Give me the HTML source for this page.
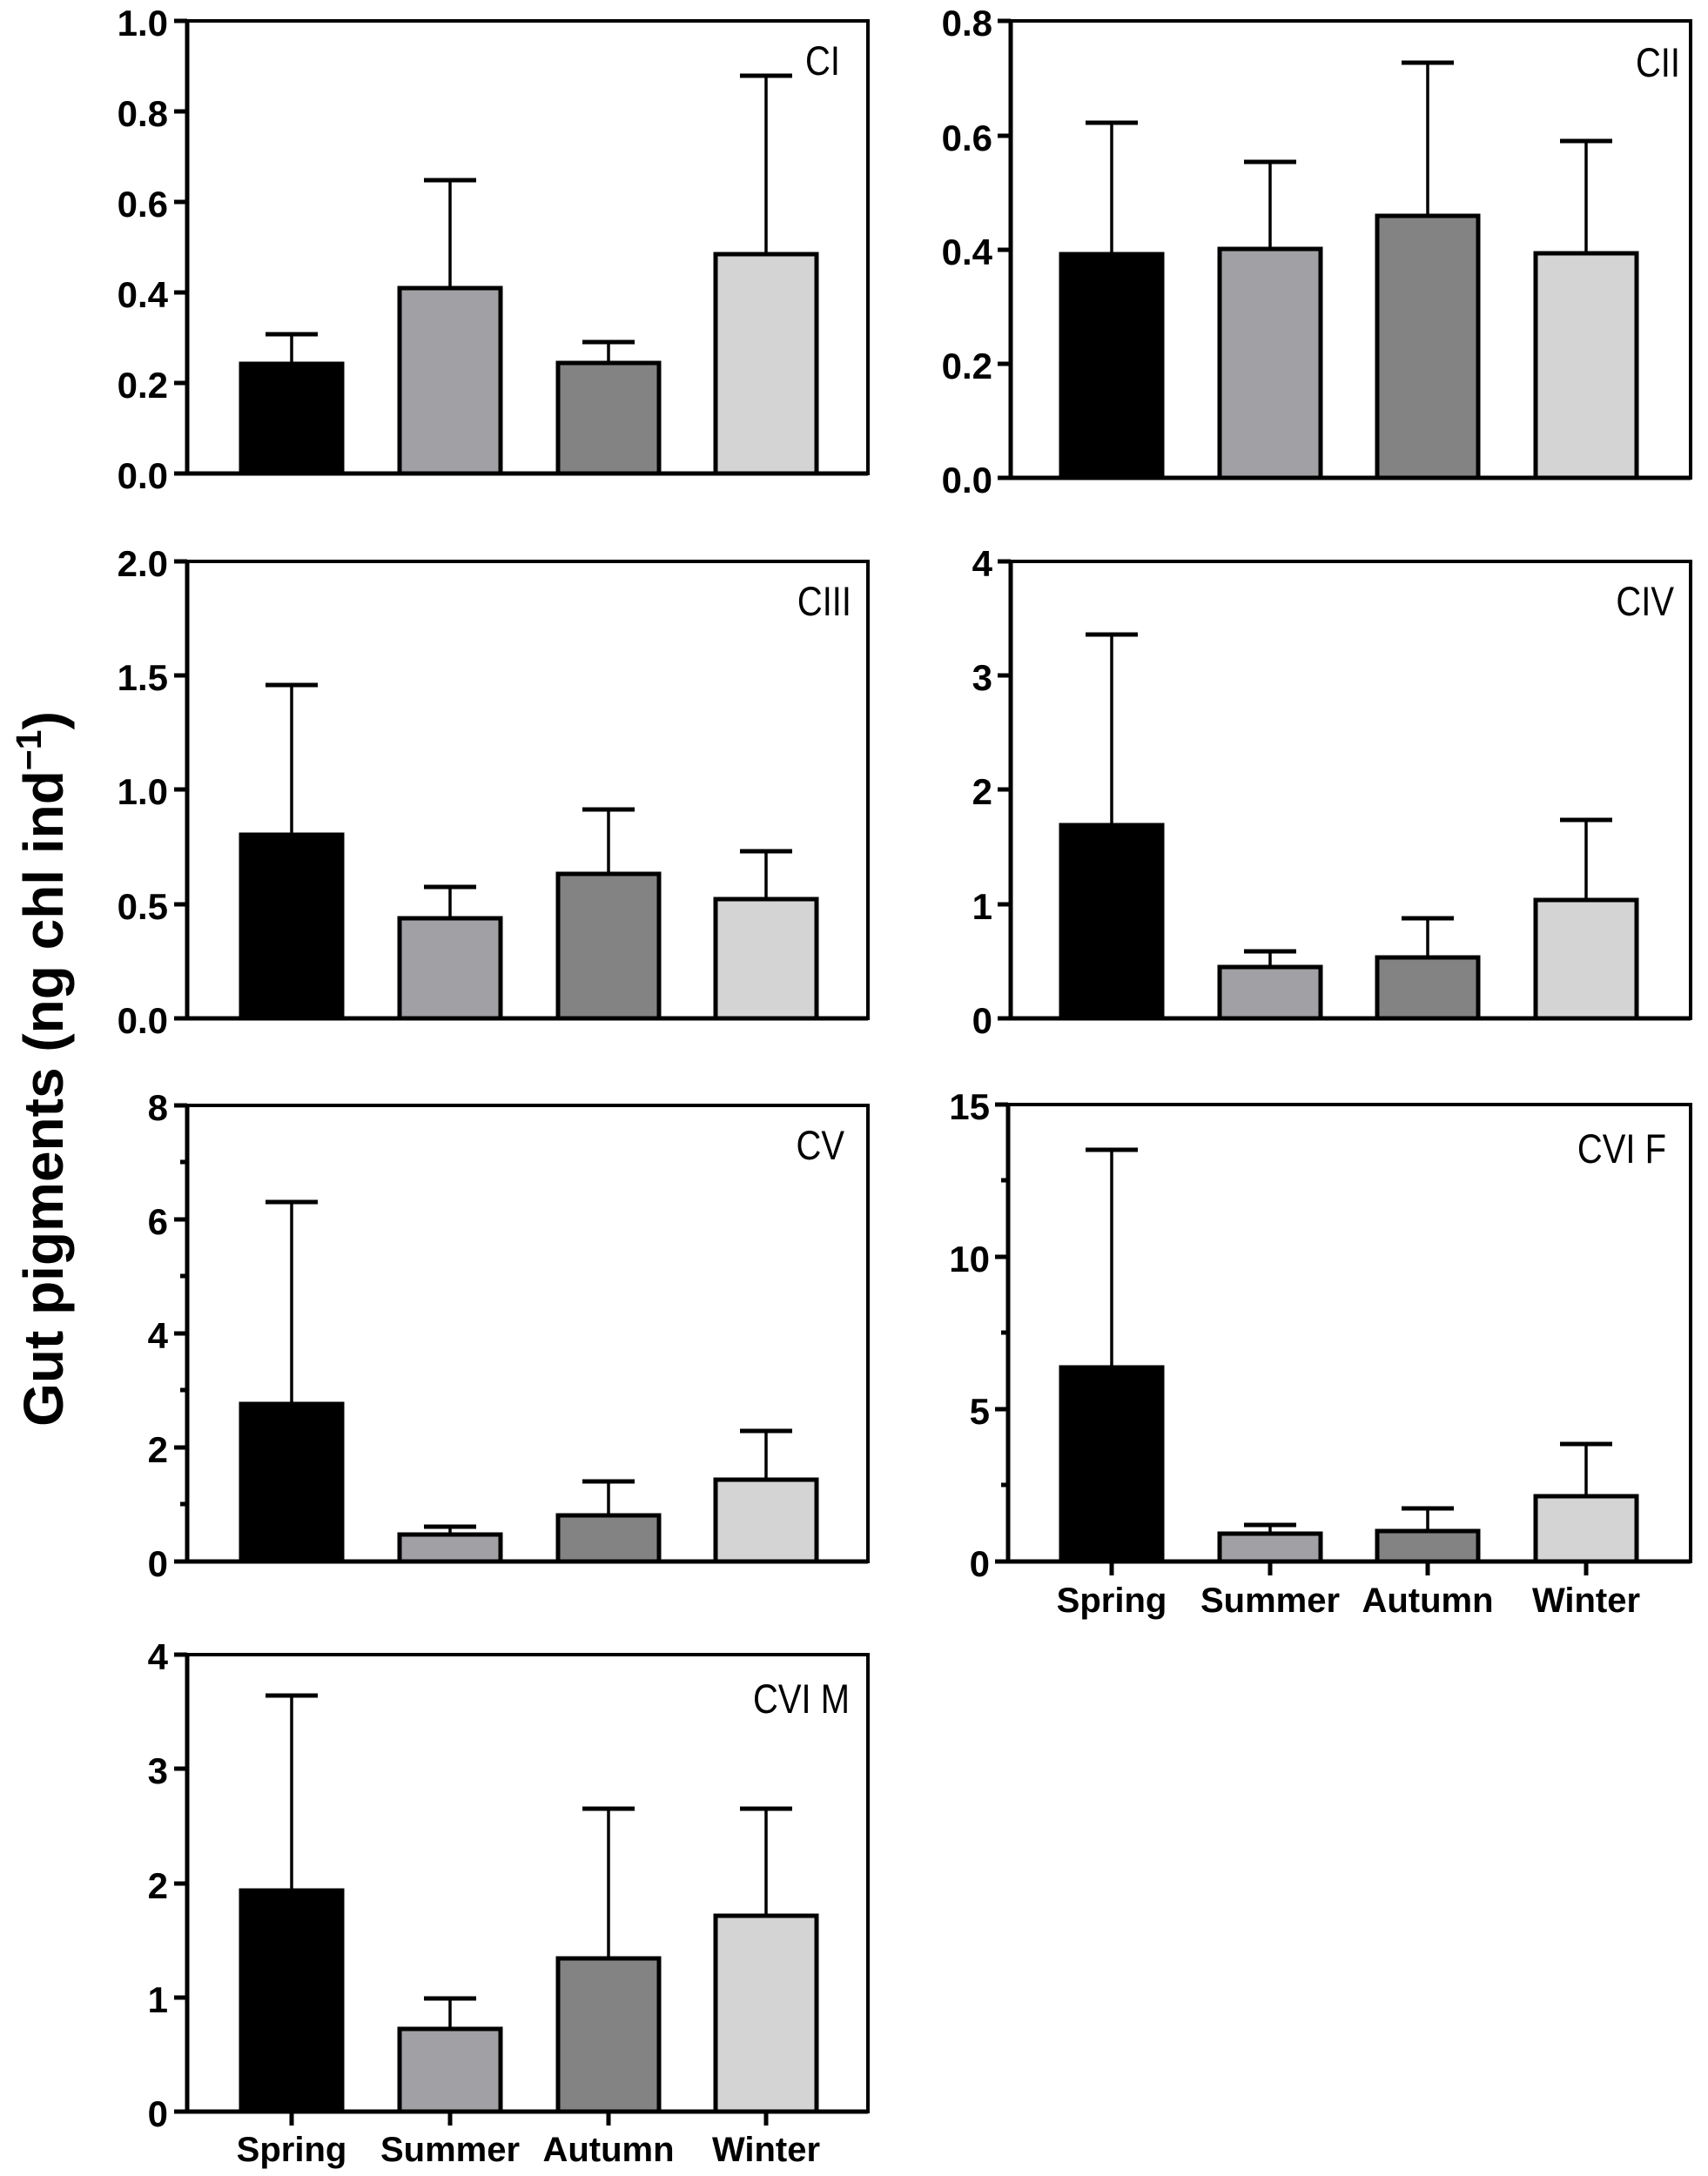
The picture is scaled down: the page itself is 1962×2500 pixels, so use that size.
<!DOCTYPE html>
<html><head><meta charset="utf-8"><style>
html,body{margin:0;padding:0;background:#fff}
svg{display:block}
text{font-family:"Liberation Sans",Arial,sans-serif}
.t{font-weight:bold;font-size:42px;text-anchor:end}
.x{font-weight:bold;font-size:40px;text-anchor:middle}
.p{font-size:47px;text-anchor:end}
.ax{stroke:#000;stroke-width:5;fill:none}
.bx{stroke:#000;stroke-width:4;fill:none}
.b{stroke:#000;stroke-width:5}
.e{stroke:#000;stroke-width:3.5}
.c{stroke:#000;stroke-width:5}
</style></head><body>
<svg width="1962" height="2500" viewBox="0 0 1962 2500" xmlns="http://www.w3.org/2000/svg">
<text transform="translate(72,1228) rotate(-90)" text-anchor="middle" font-weight="bold" font-size="64">Gut pigments (ng chl ind<tspan dy="-25" font-size="41">−1</tspan><tspan dy="25">)</tspan></text>

<!-- CI -->
<g>
<rect class="bx" x="215" y="24" width="782" height="520"/>
<line class="ax" x1="215" y1="22" x2="215" y2="546"/><line class="ax" x1="213" y1="544" x2="997" y2="544"/>
<g class="ax"><line x1="200" y1="24" x2="215" y2="24"/><line x1="200" y1="128" x2="215" y2="128"/><line x1="200" y1="232" x2="215" y2="232"/><line x1="200" y1="336" x2="215" y2="336"/><line x1="200" y1="440" x2="215" y2="440"/><line x1="200" y1="544" x2="215" y2="544"/></g>
<text class="t" x="193" y="41">1.0</text><text class="t" x="193" y="145">0.8</text><text class="t" x="193" y="249">0.6</text><text class="t" x="193" y="353">0.4</text><text class="t" x="193" y="457">0.2</text><text class="t" x="193" y="561">0.0</text>
<line class="e" x1="335" y1="418" x2="335" y2="384"/><line class="c" x1="305" y1="384" x2="365" y2="384"/>
<line class="e" x1="517" y1="331" x2="517" y2="207"/><line class="c" x1="487" y1="207" x2="547" y2="207"/>
<line class="e" x1="699" y1="417" x2="699" y2="393"/><line class="c" x1="669" y1="393" x2="729" y2="393"/>
<line class="e" x1="880" y1="292" x2="880" y2="87"/><line class="c" x1="850" y1="87" x2="910" y2="87"/>
<rect class="b" x="277" y="418" width="116" height="126" fill="#000"/>
<rect class="b" x="459" y="331" width="116" height="213" fill="#a1a1a5"/>
<rect class="b" x="641" y="417" width="116" height="127" fill="#838383"/>
<rect class="b" x="822" y="292" width="116" height="252" fill="#d4d4d4"/>
<text class="p" transform="translate(965,86) scale(0.85,1)">CI</text>
</g>

<!-- CII -->
<g>
<rect class="bx" x="1161" y="24" width="781" height="525"/>
<line class="ax" x1="1161" y1="22" x2="1161" y2="551"/><line class="ax" x1="1159" y1="549" x2="1942" y2="549"/>
<g class="ax"><line x1="1146" y1="24" x2="1161" y2="24"/><line x1="1146" y1="156" x2="1161" y2="156"/><line x1="1146" y1="287" x2="1161" y2="287"/><line x1="1146" y1="418" x2="1161" y2="418"/><line x1="1146" y1="549" x2="1161" y2="549"/></g>
<text class="t" x="1140" y="41">0.8</text><text class="t" x="1140" y="173">0.6</text><text class="t" x="1140" y="304">0.4</text><text class="t" x="1140" y="435">0.2</text><text class="t" x="1140" y="566">0.0</text>
<line class="e" x1="1277" y1="292" x2="1277" y2="141"/><line class="c" x1="1247" y1="141" x2="1307" y2="141"/>
<line class="e" x1="1459" y1="286" x2="1459" y2="186"/><line class="c" x1="1429" y1="186" x2="1489" y2="186"/>
<line class="e" x1="1640" y1="248" x2="1640" y2="72"/><line class="c" x1="1610" y1="72" x2="1670" y2="72"/>
<line class="e" x1="1822" y1="291" x2="1822" y2="162"/><line class="c" x1="1792" y1="162" x2="1852" y2="162"/>
<rect class="b" x="1219" y="292" width="116" height="257" fill="#000"/>
<rect class="b" x="1401" y="286" width="116" height="263" fill="#a1a1a5"/>
<rect class="b" x="1582" y="248" width="116" height="301" fill="#838383"/>
<rect class="b" x="1764" y="291" width="116" height="258" fill="#d4d4d4"/>
<text class="p" transform="translate(1930,88) scale(0.85,1)">CII</text>
</g>

<!-- CIII -->
<g>
<rect class="bx" x="215" y="645" width="782" height="525"/>
<line class="ax" x1="215" y1="643" x2="215" y2="1172"/><line class="ax" x1="213" y1="1170" x2="997" y2="1170"/>
<g class="ax"><line x1="200" y1="645" x2="215" y2="645"/><line x1="200" y1="776" x2="215" y2="776"/><line x1="200" y1="907" x2="215" y2="907"/><line x1="200" y1="1039" x2="215" y2="1039"/><line x1="200" y1="1170" x2="215" y2="1170"/></g>
<text class="t" x="193" y="662">2.0</text><text class="t" x="193" y="793">1.5</text><text class="t" x="193" y="924">1.0</text><text class="t" x="193" y="1056">0.5</text><text class="t" x="193" y="1187">0.0</text>
<line class="e" x1="335" y1="959" x2="335" y2="787"/><line class="c" x1="305" y1="787" x2="365" y2="787"/>
<line class="e" x1="517" y1="1055" x2="517" y2="1019"/><line class="c" x1="487" y1="1019" x2="547" y2="1019"/>
<line class="e" x1="699" y1="1004" x2="699" y2="930"/><line class="c" x1="669" y1="930" x2="729" y2="930"/>
<line class="e" x1="880" y1="1033" x2="880" y2="978"/><line class="c" x1="850" y1="978" x2="910" y2="978"/>
<rect class="b" x="277" y="959" width="116" height="211" fill="#000"/>
<rect class="b" x="459" y="1055" width="116" height="115" fill="#a1a1a5"/>
<rect class="b" x="641" y="1004" width="116" height="166" fill="#838383"/>
<rect class="b" x="822" y="1033" width="116" height="137" fill="#d4d4d4"/>
<text class="p" transform="translate(978,707) scale(0.85,1)">CIII</text>
</g>

<!-- CIV -->
<g>
<rect class="bx" x="1161" y="645" width="781" height="525"/>
<line class="ax" x1="1161" y1="643" x2="1161" y2="1172"/><line class="ax" x1="1159" y1="1170" x2="1942" y2="1170"/>
<g class="ax"><line x1="1146" y1="645" x2="1161" y2="645"/><line x1="1146" y1="776" x2="1161" y2="776"/><line x1="1146" y1="907" x2="1161" y2="907"/><line x1="1146" y1="1039" x2="1161" y2="1039"/><line x1="1146" y1="1170" x2="1161" y2="1170"/></g>
<text class="t" x="1140" y="662">4</text><text class="t" x="1140" y="793">3</text><text class="t" x="1140" y="924">2</text><text class="t" x="1140" y="1056">1</text><text class="t" x="1140" y="1187">0</text>
<line class="e" x1="1277" y1="948" x2="1277" y2="729"/><line class="c" x1="1247" y1="729" x2="1307" y2="729"/>
<line class="e" x1="1459" y1="1111" x2="1459" y2="1093"/><line class="c" x1="1429" y1="1093" x2="1489" y2="1093"/>
<line class="e" x1="1640" y1="1100" x2="1640" y2="1055"/><line class="c" x1="1610" y1="1055" x2="1670" y2="1055"/>
<line class="e" x1="1822" y1="1034" x2="1822" y2="942"/><line class="c" x1="1792" y1="942" x2="1852" y2="942"/>
<rect class="b" x="1219" y="948" width="116" height="222" fill="#000"/>
<rect class="b" x="1401" y="1111" width="116" height="59" fill="#a1a1a5"/>
<rect class="b" x="1582" y="1100" width="116" height="70" fill="#838383"/>
<rect class="b" x="1764" y="1034" width="116" height="136" fill="#d4d4d4"/>
<text class="p" transform="translate(1923,707) scale(0.85,1)">CIV</text>
</g>

<!-- CV -->
<g>
<rect class="bx" x="215" y="1270" width="782" height="524"/>
<line class="ax" x1="215" y1="1268" x2="215" y2="1796"/><line class="ax" x1="213" y1="1794" x2="997" y2="1794"/>
<g class="ax"><line x1="200" y1="1270" x2="215" y2="1270"/><line x1="200" y1="1401" x2="215" y2="1401"/><line x1="200" y1="1532" x2="215" y2="1532"/><line x1="200" y1="1663" x2="215" y2="1663"/><line x1="200" y1="1794" x2="215" y2="1794"/>
<line x1="207" y1="1335" x2="215" y2="1335"/><line x1="207" y1="1466" x2="215" y2="1466"/><line x1="207" y1="1597" x2="215" y2="1597"/><line x1="207" y1="1728" x2="215" y2="1728"/></g>
<text class="t" x="193" y="1287">8</text><text class="t" x="193" y="1418">6</text><text class="t" x="193" y="1549">4</text><text class="t" x="193" y="1680">2</text><text class="t" x="193" y="1811">0</text>
<line class="e" x1="335" y1="1613" x2="335" y2="1381"/><line class="c" x1="305" y1="1381" x2="365" y2="1381"/>
<line class="e" x1="517" y1="1763" x2="517" y2="1754"/><line class="c" x1="487" y1="1754" x2="547" y2="1754"/>
<line class="e" x1="699" y1="1741" x2="699" y2="1702"/><line class="c" x1="669" y1="1702" x2="729" y2="1702"/>
<line class="e" x1="880" y1="1700" x2="880" y2="1644"/><line class="c" x1="850" y1="1644" x2="910" y2="1644"/>
<rect class="b" x="277" y="1613" width="116" height="181" fill="#000"/>
<rect class="b" x="459" y="1763" width="116" height="31" fill="#a1a1a5"/>
<rect class="b" x="641" y="1741" width="116" height="53" fill="#838383"/>
<rect class="b" x="822" y="1700" width="116" height="94" fill="#d4d4d4"/>
<text class="p" transform="translate(970,1332) scale(0.85,1)">CV</text>
</g>

<!-- CVI F -->
<g>
<rect class="bx" x="1158" y="1269" width="784" height="525"/>
<line class="ax" x1="1158" y1="1267" x2="1158" y2="1796"/><line class="ax" x1="1156" y1="1794" x2="1942" y2="1794"/>
<g class="ax"><line x1="1143" y1="1269" x2="1158" y2="1269"/><line x1="1143" y1="1444" x2="1158" y2="1444"/><line x1="1143" y1="1619" x2="1158" y2="1619"/><line x1="1143" y1="1794" x2="1158" y2="1794"/>
<line x1="1150" y1="1356" x2="1158" y2="1356"/><line x1="1150" y1="1531" x2="1158" y2="1531"/><line x1="1150" y1="1706" x2="1158" y2="1706"/>
<line x1="1277" y1="1794" x2="1277" y2="1810"/><line x1="1459" y1="1794" x2="1459" y2="1810"/><line x1="1640" y1="1794" x2="1640" y2="1810"/><line x1="1822" y1="1794" x2="1822" y2="1810"/></g>
<text class="t" x="1137" y="1286">15</text><text class="t" x="1137" y="1461">10</text><text class="t" x="1137" y="1636">5</text><text class="t" x="1137" y="1811">0</text>
<line class="e" x1="1277" y1="1571" x2="1277" y2="1321"/><line class="c" x1="1247" y1="1321" x2="1307" y2="1321"/>
<line class="e" x1="1459" y1="1762" x2="1459" y2="1752"/><line class="c" x1="1429" y1="1752" x2="1489" y2="1752"/>
<line class="e" x1="1640" y1="1759" x2="1640" y2="1733"/><line class="c" x1="1610" y1="1733" x2="1670" y2="1733"/>
<line class="e" x1="1822" y1="1719" x2="1822" y2="1659"/><line class="c" x1="1792" y1="1659" x2="1852" y2="1659"/>
<rect class="b" x="1219" y="1571" width="116" height="223" fill="#000"/>
<rect class="b" x="1401" y="1762" width="116" height="32" fill="#a1a1a5"/>
<rect class="b" x="1582" y="1759" width="116" height="35" fill="#838383"/>
<rect class="b" x="1764" y="1719" width="116" height="75" fill="#d4d4d4"/>
<text class="p" transform="translate(1914,1336) scale(0.85,1)">CVI F</text>
<text class="x" x="1277" y="1852">Spring</text><text class="x" x="1459" y="1852">Summer</text><text class="x" x="1640" y="1852">Autumn</text><text class="x" x="1822" y="1852">Winter</text>
</g>

<!-- CVI M -->
<g>
<rect class="bx" x="215" y="1901" width="782" height="525"/>
<line class="ax" x1="215" y1="1899" x2="215" y2="2428"/><line class="ax" x1="213" y1="2426" x2="997" y2="2426"/>
<g class="ax"><line x1="200" y1="1901" x2="215" y2="1901"/><line x1="200" y1="2032" x2="215" y2="2032"/><line x1="200" y1="2164" x2="215" y2="2164"/><line x1="200" y1="2295" x2="215" y2="2295"/><line x1="200" y1="2426" x2="215" y2="2426"/>
<line x1="335" y1="2426" x2="335" y2="2442"/><line x1="517" y1="2426" x2="517" y2="2442"/><line x1="699" y1="2426" x2="699" y2="2442"/><line x1="880" y1="2426" x2="880" y2="2442"/></g>
<text class="t" x="193" y="1918">4</text><text class="t" x="193" y="2049">3</text><text class="t" x="193" y="2181">2</text><text class="t" x="193" y="2312">1</text><text class="t" x="193" y="2443">0</text>
<line class="e" x1="335" y1="2172" x2="335" y2="1948"/><line class="c" x1="305" y1="1948" x2="365" y2="1948"/>
<line class="e" x1="517" y1="2331" x2="517" y2="2296"/><line class="c" x1="487" y1="2296" x2="547" y2="2296"/>
<line class="e" x1="699" y1="2250" x2="699" y2="2078"/><line class="c" x1="669" y1="2078" x2="729" y2="2078"/>
<line class="e" x1="880" y1="2201" x2="880" y2="2078"/><line class="c" x1="850" y1="2078" x2="910" y2="2078"/>
<rect class="b" x="277" y="2172" width="116" height="254" fill="#000"/>
<rect class="b" x="459" y="2331" width="116" height="95" fill="#a1a1a5"/>
<rect class="b" x="641" y="2250" width="116" height="176" fill="#838383"/>
<rect class="b" x="822" y="2201" width="116" height="225" fill="#d4d4d4"/>
<text class="p" transform="translate(976,1968) scale(0.85,1)">CVI M</text>
<text class="x" x="335" y="2483">Spring</text><text class="x" x="517" y="2483">Summer</text><text class="x" x="699" y="2483">Autumn</text><text class="x" x="880" y="2483">Winter</text>
</g>
</svg>
</body></html>
